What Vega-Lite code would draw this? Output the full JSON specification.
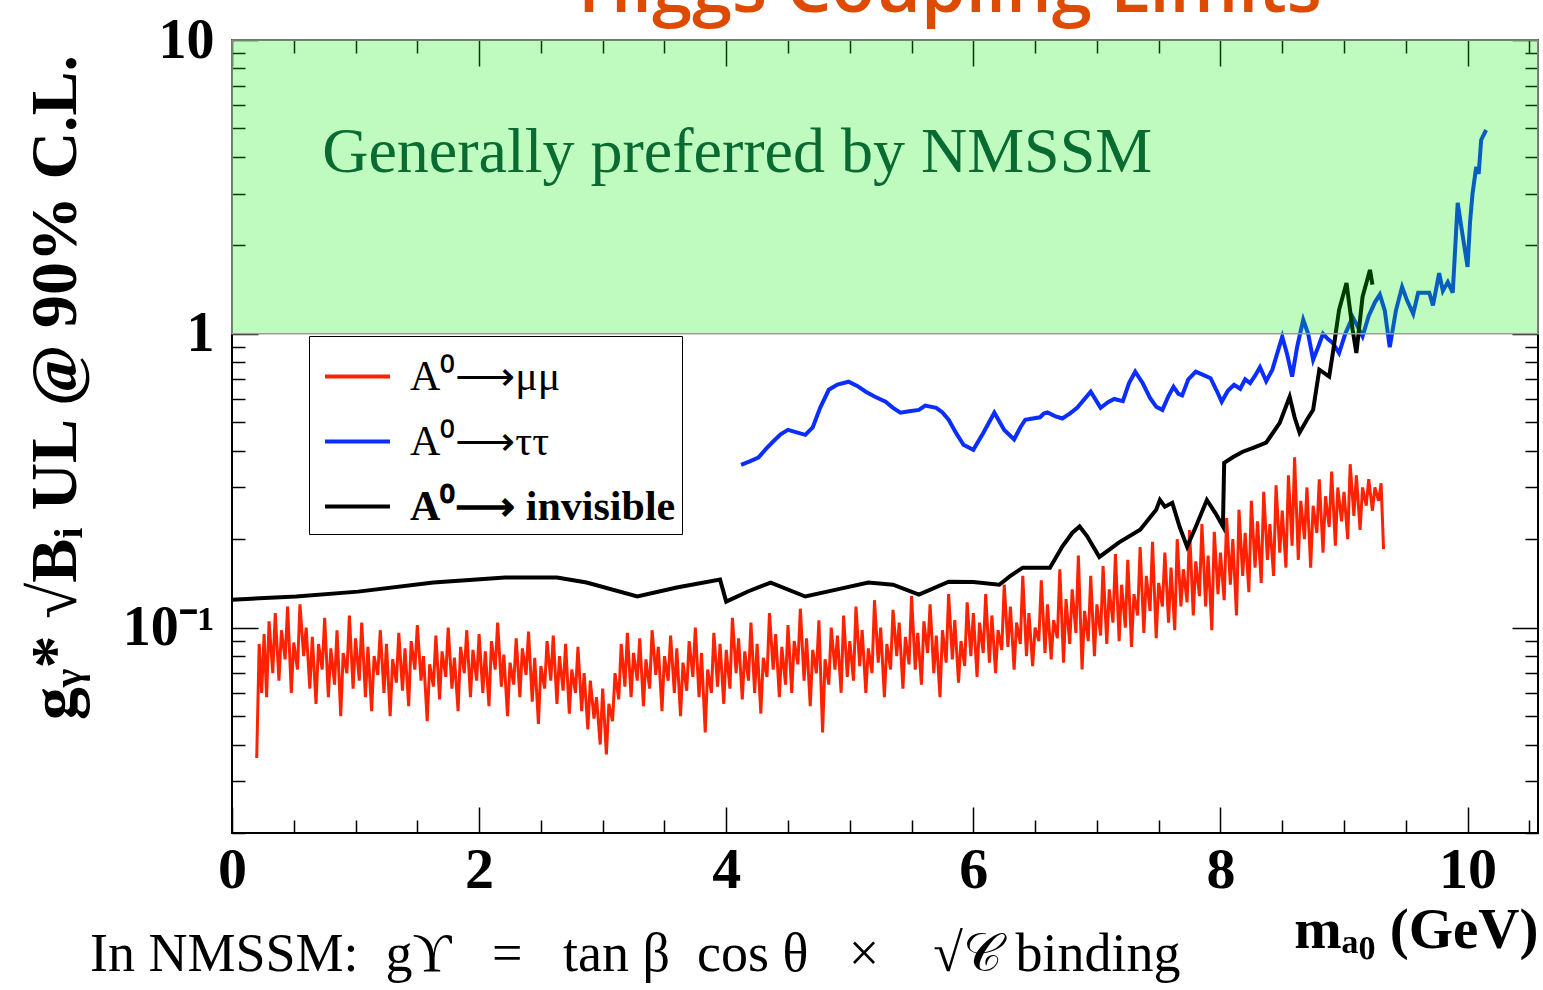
{
  "$schema": "https://vega.github.io/schema/vega-lite/v6.json",
  "autosize": {"type": "none"},
  "padding": {"left": 232, "top": 40, "right": 5, "bottom": 157},
  "width": 1306,
  "height": 793,
  "background": "#ffffff",
  "config": {
    "view": {"stroke": "#000000", "strokeWidth": 2},
    "axis": {"domain": false, "grid": false, "tickColor": "#000000", "tickWidth": 1.5, "labelColor": "#000000", "titleColor": "#000000", "labelFlush": false, "labelOverlap": false}
  },
  "datasets": {
    "mumu": [
      {"m":0.20,"ul":0.036},{"m":0.22,"ul":0.088},{"m":0.24,"ul":0.060},{"m":0.26,"ul":0.095},{"m":0.28,"ul":0.058},{"m":0.30,"ul":0.105},{"m":0.33,"ul":0.070},{"m":0.35,"ul":0.112},{"m":0.38,"ul":0.066},{"m":0.40,"ul":0.098},
      {"m":0.43,"ul":0.078},{"m":0.45,"ul":0.118},{"m":0.48,"ul":0.060},{"m":0.50,"ul":0.089},{"m":0.53,"ul":0.072},{"m":0.55,"ul":0.120},{"m":0.58,"ul":0.080},{"m":0.60,"ul":0.100},{"m":0.63,"ul":0.062},{"m":0.65,"ul":0.093},
      {"m":0.68,"ul":0.055},{"m":0.70,"ul":0.088},{"m":0.73,"ul":0.072},{"m":0.75,"ul":0.108},{"m":0.78,"ul":0.058},{"m":0.80,"ul":0.085},{"m":0.83,"ul":0.064},{"m":0.85,"ul":0.098},{"m":0.88,"ul":0.050},{"m":0.90,"ul":0.082},
      {"m":0.93,"ul":0.070},{"m":0.95,"ul":0.110},{"m":0.98,"ul":0.062},{"m":1.00,"ul":0.092},{"m":1.03,"ul":0.066},{"m":1.05,"ul":0.104},{"m":1.08,"ul":0.058},{"m":1.10,"ul":0.086},{"m":1.13,"ul":0.052},{"m":1.15,"ul":0.080},
      {"m":1.18,"ul":0.069},{"m":1.20,"ul":0.098},{"m":1.23,"ul":0.060},{"m":1.25,"ul":0.088},{"m":1.28,"ul":0.050},{"m":1.30,"ul":0.078},{"m":1.33,"ul":0.065},{"m":1.35,"ul":0.096},{"m":1.38,"ul":0.061},{"m":1.40,"ul":0.085},
      {"m":1.43,"ul":0.054},{"m":1.45,"ul":0.090},{"m":1.48,"ul":0.072},{"m":1.50,"ul":0.102},{"m":1.53,"ul":0.066},{"m":1.55,"ul":0.080},{"m":1.58,"ul":0.048},{"m":1.60,"ul":0.075},{"m":1.63,"ul":0.063},{"m":1.65,"ul":0.094},
      {"m":1.68,"ul":0.057},{"m":1.70,"ul":0.083},{"m":1.73,"ul":0.068},{"m":1.75,"ul":0.100},{"m":1.78,"ul":0.062},{"m":1.80,"ul":0.079},{"m":1.83,"ul":0.052},{"m":1.85,"ul":0.086},{"m":1.88,"ul":0.070},{"m":1.90,"ul":0.098},
      {"m":1.93,"ul":0.058},{"m":1.95,"ul":0.084},{"m":1.98,"ul":0.066},{"m":2.00,"ul":0.095},{"m":2.03,"ul":0.060},{"m":2.05,"ul":0.083},{"m":2.08,"ul":0.054},{"m":2.10,"ul":0.090},{"m":2.13,"ul":0.072},{"m":2.15,"ul":0.104},
      {"m":2.18,"ul":0.063},{"m":2.20,"ul":0.081},{"m":2.23,"ul":0.050},{"m":2.25,"ul":0.076},{"m":2.28,"ul":0.064},{"m":2.30,"ul":0.092},{"m":2.33,"ul":0.058},{"m":2.35,"ul":0.085},{"m":2.38,"ul":0.069},{"m":2.40,"ul":0.097},
      {"m":2.43,"ul":0.056},{"m":2.45,"ul":0.079},{"m":2.48,"ul":0.047},{"m":2.50,"ul":0.074},{"m":2.53,"ul":0.062},{"m":2.55,"ul":0.090},{"m":2.58,"ul":0.066},{"m":2.60,"ul":0.094},{"m":2.63,"ul":0.055},{"m":2.65,"ul":0.080},
      {"m":2.68,"ul":0.061},{"m":2.70,"ul":0.088},{"m":2.73,"ul":0.051},{"m":2.75,"ul":0.072},{"m":2.78,"ul":0.060},{"m":2.80,"ul":0.086},{"m":2.83,"ul":0.052},{"m":2.85,"ul":0.070},{"m":2.88,"ul":0.045},{"m":2.90,"ul":0.066},
      {"m":2.93,"ul":0.049},{"m":2.95,"ul":0.058},{"m":2.98,"ul":0.040},{"m":3.00,"ul":0.062},{"m":3.03,"ul":0.037},{"m":3.05,"ul":0.055},{"m":3.08,"ul":0.048},{"m":3.10,"ul":0.070},{"m":3.13,"ul":0.057},{"m":3.15,"ul":0.088},
      {"m":3.18,"ul":0.063},{"m":3.20,"ul":0.096},{"m":3.23,"ul":0.058},{"m":3.25,"ul":0.082},{"m":3.28,"ul":0.066},{"m":3.30,"ul":0.092},{"m":3.33,"ul":0.054},{"m":3.35,"ul":0.078},{"m":3.38,"ul":0.062},{"m":3.40,"ul":0.098},
      {"m":3.43,"ul":0.069},{"m":3.45,"ul":0.086},{"m":3.48,"ul":0.052},{"m":3.50,"ul":0.080},{"m":3.53,"ul":0.066},{"m":3.55,"ul":0.094},{"m":3.58,"ul":0.060},{"m":3.60,"ul":0.085},{"m":3.63,"ul":0.050},{"m":3.65,"ul":0.076},
      {"m":3.68,"ul":0.061},{"m":3.70,"ul":0.090},{"m":3.73,"ul":0.068},{"m":3.75,"ul":0.100},{"m":3.78,"ul":0.058},{"m":3.80,"ul":0.082},{"m":3.83,"ul":0.044},{"m":3.85,"ul":0.072},{"m":3.88,"ul":0.060},{"m":3.90,"ul":0.096},
      {"m":3.93,"ul":0.063},{"m":3.95,"ul":0.088},{"m":3.98,"ul":0.055},{"m":4.00,"ul":0.084},{"m":4.03,"ul":0.062},{"m":4.05,"ul":0.108},{"m":4.08,"ul":0.070},{"m":4.10,"ul":0.092},{"m":4.13,"ul":0.057},{"m":4.15,"ul":0.083},
      {"m":4.18,"ul":0.066},{"m":4.20,"ul":0.104},{"m":4.23,"ul":0.060},{"m":4.25,"ul":0.088},{"m":4.28,"ul":0.051},{"m":4.30,"ul":0.079},{"m":4.33,"ul":0.068},{"m":4.35,"ul":0.112},{"m":4.38,"ul":0.072},{"m":4.40,"ul":0.095},
      {"m":4.43,"ul":0.058},{"m":4.45,"ul":0.086},{"m":4.48,"ul":0.064},{"m":4.50,"ul":0.102},{"m":4.53,"ul":0.060},{"m":4.55,"ul":0.090},{"m":4.58,"ul":0.075},{"m":4.60,"ul":0.116},{"m":4.63,"ul":0.066},{"m":4.65,"ul":0.092},
      {"m":4.68,"ul":0.054},{"m":4.70,"ul":0.084},{"m":4.73,"ul":0.070},{"m":4.75,"ul":0.106},{"m":4.78,"ul":0.044},{"m":4.80,"ul":0.078},{"m":4.83,"ul":0.064},{"m":4.85,"ul":0.100},{"m":4.88,"ul":0.072},{"m":4.90,"ul":0.094},
      {"m":4.93,"ul":0.060},{"m":4.95,"ul":0.110},{"m":4.98,"ul":0.068},{"m":5.00,"ul":0.090},{"m":5.03,"ul":0.066},{"m":5.05,"ul":0.118},{"m":5.08,"ul":0.074},{"m":5.10,"ul":0.098},{"m":5.13,"ul":0.060},{"m":5.15,"ul":0.085},
      {"m":5.18,"ul":0.070},{"m":5.20,"ul":0.124},{"m":5.23,"ul":0.076},{"m":5.25,"ul":0.100},{"m":5.28,"ul":0.058},{"m":5.30,"ul":0.088},{"m":5.33,"ul":0.072},{"m":5.35,"ul":0.115},{"m":5.38,"ul":0.080},{"m":5.40,"ul":0.104},
      {"m":5.43,"ul":0.062},{"m":5.45,"ul":0.093},{"m":5.48,"ul":0.075},{"m":5.50,"ul":0.128},{"m":5.53,"ul":0.072},{"m":5.55,"ul":0.096},{"m":5.58,"ul":0.064},{"m":5.60,"ul":0.105},{"m":5.63,"ul":0.082},{"m":5.65,"ul":0.120},
      {"m":5.68,"ul":0.070},{"m":5.70,"ul":0.094},{"m":5.73,"ul":0.058},{"m":5.75,"ul":0.098},{"m":5.78,"ul":0.076},{"m":5.80,"ul":0.130},{"m":5.83,"ul":0.078},{"m":5.85,"ul":0.106},{"m":5.88,"ul":0.065},{"m":5.90,"ul":0.090},
      {"m":5.93,"ul":0.074},{"m":5.95,"ul":0.122},{"m":5.98,"ul":0.080},{"m":6.00,"ul":0.112},{"m":6.03,"ul":0.068},{"m":6.05,"ul":0.104},{"m":6.08,"ul":0.082},{"m":6.10,"ul":0.130},{"m":6.13,"ul":0.076},{"m":6.15,"ul":0.110},
      {"m":6.18,"ul":0.070},{"m":6.20,"ul":0.098},{"m":6.23,"ul":0.084},{"m":6.25,"ul":0.140},{"m":6.28,"ul":0.086},{"m":6.30,"ul":0.118},{"m":6.33,"ul":0.072},{"m":6.35,"ul":0.104},{"m":6.38,"ul":0.088},{"m":6.40,"ul":0.150},
      {"m":6.43,"ul":0.080},{"m":6.45,"ul":0.112},{"m":6.48,"ul":0.074},{"m":6.50,"ul":0.100},{"m":6.53,"ul":0.090},{"m":6.55,"ul":0.145},{"m":6.58,"ul":0.082},{"m":6.60,"ul":0.120},{"m":6.63,"ul":0.078},{"m":6.65,"ul":0.106},
      {"m":6.68,"ul":0.092},{"m":6.70,"ul":0.158},{"m":6.73,"ul":0.076},{"m":6.75,"ul":0.125},{"m":6.78,"ul":0.088},{"m":6.80,"ul":0.135},{"m":6.83,"ul":0.096},{"m":6.85,"ul":0.176},{"m":6.88,"ul":0.072},{"m":6.90,"ul":0.114},
      {"m":6.93,"ul":0.090},{"m":6.95,"ul":0.150},{"m":6.98,"ul":0.080},{"m":7.00,"ul":0.120},{"m":7.03,"ul":0.094},{"m":7.05,"ul":0.162},{"m":7.08,"ul":0.088},{"m":7.10,"ul":0.135},{"m":7.13,"ul":0.104},{"m":7.15,"ul":0.178},
      {"m":7.18,"ul":0.090},{"m":7.20,"ul":0.140},{"m":7.23,"ul":0.100},{"m":7.25,"ul":0.170},{"m":7.28,"ul":0.086},{"m":7.30,"ul":0.130},{"m":7.33,"ul":0.110},{"m":7.35,"ul":0.188},{"m":7.38,"ul":0.096},{"m":7.40,"ul":0.150},
      {"m":7.43,"ul":0.114},{"m":7.45,"ul":0.196},{"m":7.48,"ul":0.092},{"m":7.50,"ul":0.142},{"m":7.53,"ul":0.118},{"m":7.55,"ul":0.180},{"m":7.58,"ul":0.104},{"m":7.60,"ul":0.160},{"m":7.63,"ul":0.098},{"m":7.65,"ul":0.200},
      {"m":7.68,"ul":0.118},{"m":7.70,"ul":0.158},{"m":7.73,"ul":0.122},{"m":7.75,"ul":0.215},{"m":7.78,"ul":0.110},{"m":7.80,"ul":0.168},{"m":7.83,"ul":0.128},{"m":7.85,"ul":0.225},{"m":7.88,"ul":0.118},{"m":7.90,"ul":0.176},
      {"m":7.93,"ul":0.098},{"m":7.95,"ul":0.212},{"m":7.98,"ul":0.130},{"m":8.00,"ul":0.180},{"m":8.03,"ul":0.124},{"m":8.05,"ul":0.236},{"m":8.08,"ul":0.140},{"m":8.10,"ul":0.200},{"m":8.13,"ul":0.110},{"m":8.15,"ul":0.252},
      {"m":8.18,"ul":0.150},{"m":8.20,"ul":0.210},{"m":8.23,"ul":0.132},{"m":8.25,"ul":0.270},{"m":8.28,"ul":0.160},{"m":8.30,"ul":0.230},{"m":8.33,"ul":0.142},{"m":8.35,"ul":0.290},{"m":8.38,"ul":0.170},{"m":8.40,"ul":0.225},
      {"m":8.43,"ul":0.150},{"m":8.45,"ul":0.305},{"m":8.48,"ul":0.180},{"m":8.50,"ul":0.250},{"m":8.53,"ul":0.160},{"m":8.55,"ul":0.330},{"m":8.58,"ul":0.190},{"m":8.60,"ul":0.380},{"m":8.63,"ul":0.170},{"m":8.65,"ul":0.270},
      {"m":8.68,"ul":0.200},{"m":8.70,"ul":0.300},{"m":8.73,"ul":0.160},{"m":8.75,"ul":0.260},{"m":8.78,"ul":0.210},{"m":8.80,"ul":0.320},{"m":8.83,"ul":0.180},{"m":8.85,"ul":0.280},{"m":8.88,"ul":0.220},{"m":8.90,"ul":0.340},
      {"m":8.93,"ul":0.190},{"m":8.95,"ul":0.300},{"m":8.98,"ul":0.230},{"m":9.00,"ul":0.290},{"m":9.03,"ul":0.200},{"m":9.05,"ul":0.360},{"m":9.08,"ul":0.240},{"m":9.10,"ul":0.330},{"m":9.13,"ul":0.215},{"m":9.15,"ul":0.300},
      {"m":9.18,"ul":0.260},{"m":9.20,"ul":0.320},{"m":9.23,"ul":0.250},{"m":9.25,"ul":0.300},{"m":9.28,"ul":0.270},{"m":9.30,"ul":0.310},{"m":9.32,"ul":0.185}
    ],
    "tautau": [
      {"m":4.12,"ul":0.358},{"m":4.19,"ul":0.368},{"m":4.26,"ul":0.379},{"m":4.32,"ul":0.405},{"m":4.38,"ul":0.430},{"m":4.44,"ul":0.455},{"m":4.50,"ul":0.471},{"m":4.57,"ul":0.462},{"m":4.64,"ul":0.453},{"m":4.70,"ul":0.480},
      {"m":4.76,"ul":0.560},{"m":4.83,"ul":0.645},{"m":4.90,"ul":0.672},{"m":4.99,"ul":0.687},{"m":5.06,"ul":0.665},{"m":5.13,"ul":0.635},{"m":5.20,"ul":0.612},{"m":5.29,"ul":0.587},{"m":5.35,"ul":0.560},{"m":5.41,"ul":0.539},
      {"m":5.48,"ul":0.545},{"m":5.56,"ul":0.551},{"m":5.61,"ul":0.570},{"m":5.70,"ul":0.560},{"m":5.75,"ul":0.540},{"m":5.80,"ul":0.510},{"m":5.86,"ul":0.460},{"m":5.92,"ul":0.419},{"m":6.00,"ul":0.403},{"m":6.08,"ul":0.460},
      {"m":6.17,"ul":0.539},{"m":6.25,"ul":0.471},{"m":6.33,"ul":0.437},{"m":6.38,"ul":0.480},{"m":6.42,"ul":0.510},{"m":6.48,"ul":0.515},{"m":6.54,"ul":0.520},{"m":6.57,"ul":0.535},{"m":6.60,"ul":0.540},{"m":6.66,"ul":0.525},
      {"m":6.72,"ul":0.515},{"m":6.78,"ul":0.535},{"m":6.84,"ul":0.560},{"m":6.95,"ul":0.635},{"m":7.03,"ul":0.560},{"m":7.09,"ul":0.585},{"m":7.14,"ul":0.600},{"m":7.21,"ul":0.590},{"m":7.26,"ul":0.680},{"m":7.31,"ul":0.743},
      {"m":7.37,"ul":0.680},{"m":7.43,"ul":0.605},{"m":7.48,"ul":0.565},{"m":7.53,"ul":0.551},{"m":7.58,"ul":0.615},{"m":7.62,"ul":0.660},{"m":7.66,"ul":0.625},{"m":7.69,"ul":0.617},{"m":7.74,"ul":0.700},{"m":7.80,"ul":0.743},
      {"m":7.86,"ul":0.725},{"m":7.92,"ul":0.706},{"m":7.97,"ul":0.640},{"m":8.01,"ul":0.587},{"m":8.06,"ul":0.640},{"m":8.11,"ul":0.671},{"m":8.16,"ul":0.650},{"m":8.20,"ul":0.700},{"m":8.24,"ul":0.680},{"m":8.28,"ul":0.720},
      {"m":8.32,"ul":0.770},{"m":8.37,"ul":0.690},{"m":8.42,"ul":0.755},{"m":8.46,"ul":0.860},{"m":8.50,"ul":0.977},{"m":8.54,"ul":0.850},{"m":8.58,"ul":0.715},{"m":8.62,"ul":0.900},{"m":8.67,"ul":1.116},{"m":8.71,"ul":1.000},
      {"m":8.75,"ul":0.816},{"m":8.79,"ul":0.900},{"m":8.83,"ul":1.000},{"m":8.87,"ul":0.960},{"m":8.91,"ul":0.930},{"m":8.96,"ul":0.860},{"m":9.01,"ul":1.000},{"m":9.07,"ul":1.140},{"m":9.11,"ul":1.060},{"m":9.15,"ul":0.980},
      {"m":9.20,"ul":1.150},{"m":9.25,"ul":1.280},{"m":9.29,"ul":1.360},{"m":9.33,"ul":1.200},{"m":9.37,"ul":0.900},{"m":9.42,"ul":1.200},{"m":9.47,"ul":1.445},{"m":9.51,"ul":1.300},{"m":9.56,"ul":1.170},{"m":9.60,"ul":1.380},
      {"m":9.65,"ul":1.380},{"m":9.69,"ul":1.380},{"m":9.72,"ul":1.250},{"m":9.77,"ul":1.610},{"m":9.80,"ul":1.400},{"m":9.84,"ul":1.500},{"m":9.88,"ul":1.380},{"m":9.92,"ul":2.790},{"m":9.95,"ul":2.300},{"m":10.00,"ul":1.690},
      {"m":10.02,"ul":2.400},{"m":10.04,"ul":3.000},{"m":10.07,"ul":3.700},{"m":10.09,"ul":3.500},{"m":10.11,"ul":4.570},{"m":10.15,"ul":4.940}
    ],
    "invisible": [
      {"m":0.00,"ul":0.1245},{"m":0.52,"ul":0.1276},{"m":1.02,"ul":0.1326},{"m":1.63,"ul":0.1424},{"m":2.21,"ul":0.148},{"m":2.63,"ul":0.148},{"m":2.87,"ul":0.1424},{"m":3.28,"ul":0.1276},{"m":3.60,"ul":0.137},{"m":3.95,"ul":0.1457},
      {"m":4.00,"ul":0.1226},{"m":4.18,"ul":0.133},{"m":4.36,"ul":0.1424},{"m":4.64,"ul":0.1276},{"m":4.90,"ul":0.135},{"m":5.15,"ul":0.1424},{"m":5.35,"ul":0.140},{"m":5.56,"ul":0.1296},{"m":5.80,"ul":0.1434},{"m":6.00,"ul":0.143},
      {"m":6.21,"ul":0.140},{"m":6.30,"ul":0.150},{"m":6.40,"ul":0.160},{"m":6.62,"ul":0.160},{"m":6.72,"ul":0.1887},{"m":6.80,"ul":0.210},{"m":6.86,"ul":0.221},{"m":6.92,"ul":0.205},{"m":7.02,"ul":0.174},{"m":7.18,"ul":0.195},
      {"m":7.35,"ul":0.2155},{"m":7.48,"ul":0.252},{"m":7.51,"ul":0.272},{"m":7.55,"ul":0.258},{"m":7.61,"ul":0.266},{"m":7.67,"ul":0.220},{"m":7.73,"ul":0.1887},{"m":7.80,"ul":0.220},{"m":7.89,"ul":0.272},{"m":7.96,"ul":0.245},
      {"m":8.02,"ul":0.221},{"m":8.03,"ul":0.364},{"m":8.10,"ul":0.380},{"m":8.18,"ul":0.397},{"m":8.27,"ul":0.410},{"m":8.37,"ul":0.426},{"m":8.48,"ul":0.498},{"m":8.56,"ul":0.611},{"m":8.60,"ul":0.520},{"m":8.64,"ul":0.461},
      {"m":8.70,"ul":0.510},{"m":8.75,"ul":0.551},{"m":8.80,"ul":0.755},{"m":8.88,"ul":0.715},{"m":8.91,"ul":0.861},{"m":8.96,"ul":1.207},{"m":9.02,"ul":1.490},{"m":9.07,"ul":1.030},{"m":9.10,"ul":0.861},{"m":9.15,"ul":1.337},
      {"m":9.21,"ul":1.650},{"m":9.23,"ul":1.470}
    ],
    "band": [{"region": "Generally preferred by NMSSM", "m_lo": 0, "m_hi": 10.57, "ul_lo": 1, "ul_hi": 10}],
    "notes": [
      {"kind": "band", "txt": "Generally preferred by NMSSM", "m": 0.73, "ul": 3.56},
      {"kind": "formula", "txt": "In NMSSM:\u00a0 g\u03d2\u00a0\u00a0 =\u00a0\u00a0 tan\u00a0\u03b2\u00a0\u00a0cos\u00a0\u03b8\u00a0\u00a0 \u00d7\u00a0\u00a0 \u00a0\u221a\ud835\udc9e\u00a0binding", "m": -1.149, "ul": 0.00676},
      {"kind": "title", "txt": "Higgs Coupling Limits", "m": 5.81, "ul": 12.45}
    ]
  },
  "resolve": {"axis": {"x": "independent", "y": "independent"}},
  "layer": [
    {
      "data": {"name": "mumu"},
      "mark": {"type": "line", "strokeWidth": 3, "interpolate": "linear"},
      "encoding": {
        "x": {"field": "m", "type": "quantitative", "scale": {"domain": [0, 10.57], "nice": false, "zero": false},
          "axis": {"orient": "bottom", "values": [0,0.5,1,1.5,2,2.5,3,3.5,4,4.5,5,5.5,6,6.5,7,7.5,8,8.5,9,9.5,10,10.5],
            "labelExpr": "datum.value % 2 === 0 ? format(datum.value, 'd') : ''",
            "tickSize": {"condition": {"test": "datum.value % 2 === 0", "value": -26}, "value": -13},
            "labelFont": "Liberation Serif", "labelFontWeight": "bold", "labelFontSize": 58, "labelPadding": 34,
            "title": "m\u2090\u2080 (GeV)", "titleFont": "Liberation Serif", "titleFontWeight": "bold", "titleFontSize": 57,
            "titleX": 1306, "titleY": 114, "titleAlign": "right", "titleBaseline": "alphabetic", "titleAnchor": null}},
        "y": {"field": "ul", "type": "quantitative", "scale": {"type": "log", "domain": [0.02, 10], "nice": false},
          "axis": {"orient": "left", "values": [0.02,0.03,0.04,0.05,0.06,0.07,0.08,0.09,0.1,0.2,0.3,0.4,0.5,0.6,0.7,0.8,0.9,1,2,3,4,5,6,7,8,9,10],
            "labelExpr": "datum.value == 10 ? '10' : datum.value == 1 ? '1' : datum.value == 0.1 ? '10\u207b\u00b9' : ''",
            "tickSize": {"condition": {"test": "datum.value == 10 || datum.value == 1 || datum.value == 0.1", "value": -26}, "value": -13},
            "labelFont": "Liberation Serif", "labelFontWeight": "bold", "labelFontSize": 56, "labelPadding": 44,
            "title": "g\u1d67* \u221aB\u1d62 UL @ 90% C.L.", "titleFont": "Liberation Serif", "titleFontWeight": "bold", "titleFontSize": 66,
            "titleAngle": 270, "titleX": -177, "titleY": 347, "titleAlign": "center", "titleBaseline": "middle", "titleAnchor": null}},
        "color": {"datum": "A\u2070\u27f6\u03bc\u03bc", "type": "nominal",
          "scale": {"domain": ["A\u2070\u27f6\u03bc\u03bc", "A\u2070\u27f6\u03c4\u03c4", "A\u2070\u27f6 invisible\u00a0\u00a0"], "range": ["#ff2200", "#0a2eff", "#000000"]},
          "legend": {"orient": "none", "legendX": 77, "legendY": 296, "title": null, "symbolType": "stroke", "symbolSize": 4225, "symbolStrokeWidth": 4,
            "labelFont": "Liberation Serif", "labelFontSize": 42, "labelColor": "#000000", "labelOffset": 18, "padding": 6, "symbolOffset": 8,
            "strokeColor": "#000000", "fillColor": "#ffffff", "rowPadding": 9, "labelLimit": 800,
            "encode": {"labels": {"update": {
              "fontWeight": {"signal": "indexof(datum.label, 'invisible') >= 0 ? 'bold' : 'normal'"}}}}}}
      }
    },
    {
      "data": {"name": "tautau"},
      "mark": {"type": "line", "strokeWidth": 4, "interpolate": "linear"},
      "encoding": {
        "x": {"field": "m", "type": "quantitative", "axis": null},
        "y": {"field": "ul", "type": "quantitative", "axis": null},
        "color": {"datum": "A\u2070\u27f6\u03c4\u03c4", "type": "nominal"}
      }
    },
    {
      "data": {"name": "invisible"},
      "mark": {"type": "line", "strokeWidth": 4, "interpolate": "linear"},
      "encoding": {
        "x": {"field": "m", "type": "quantitative", "axis": null},
        "y": {"field": "ul", "type": "quantitative", "axis": null},
        "color": {"datum": "A\u2070\u27f6 invisible\u00a0\u00a0", "type": "nominal"}
      }
    },
    {
      "data": {"name": "band"},
      "mark": {"type": "rect", "fill": "#00f000", "fillOpacity": 0.25, "stroke": "#9a9a9a", "strokeWidth": 1.5},
      "encoding": {
        "x": {"field": "m_lo", "type": "quantitative",
          "axis": {"orient": "top", "values": [0,0.5,1,1.5,2,2.5,3,3.5,4,4.5,5,5.5,6,6.5,7,7.5,8,8.5,9,9.5,10,10.5], "labels": false, "title": null,
            "tickSize": {"condition": {"test": "datum.value % 2 === 0", "value": -26}, "value": -13}}},
        "x2": {"field": "m_hi"},
        "y": {"field": "ul_lo", "type": "quantitative",
          "axis": {"orient": "right", "values": [0.02,0.03,0.04,0.05,0.06,0.07,0.08,0.09,0.1,0.2,0.3,0.4,0.5,0.6,0.7,0.8,0.9,1,2,3,4,5,6,7,8,9,10], "labels": false, "title": null,
            "tickSize": {"condition": {"test": "datum.value == 10 || datum.value == 1 || datum.value == 0.1", "value": -26}, "value": -13}}},
        "y2": {"field": "ul_hi"}
      }
    },
    {
      "data": {"name": "notes"},
      "transform": [{"filter": "datum.kind == 'band'"}],
      "mark": {"type": "text", "align": "left", "baseline": "alphabetic", "font": "Liberation Serif", "fontSize": 64, "color": "#0a6b32"},
      "encoding": {
        "x": {"field": "m", "type": "quantitative", "axis": null},
        "y": {"field": "ul", "type": "quantitative", "axis": null},
        "text": {"field": "txt"}
      }
    },
    {
      "data": {"name": "notes"},
      "transform": [{"filter": "datum.kind == 'formula'"}],
      "mark": {"type": "text", "align": "left", "baseline": "alphabetic", "font": "Liberation Serif", "fontSize": 54, "color": "#000000"},
      "encoding": {
        "x": {"field": "m", "type": "quantitative", "axis": null},
        "y": {"field": "ul", "type": "quantitative", "axis": null},
        "text": {"field": "txt"}
      }
    },
    {
      "data": {"name": "notes"},
      "transform": [{"filter": "datum.kind == 'title'"}],
      "mark": {"type": "text", "align": "center", "baseline": "alphabetic", "font": "Open Sans", "fontSize": 72, "fontWeight": 600, "color": "#dd4a00"},
      "encoding": {
        "x": {"field": "m", "type": "quantitative", "axis": null},
        "y": {"field": "ul", "type": "quantitative", "axis": null},
        "text": {"field": "txt"}
      }
    }
  ]
}
